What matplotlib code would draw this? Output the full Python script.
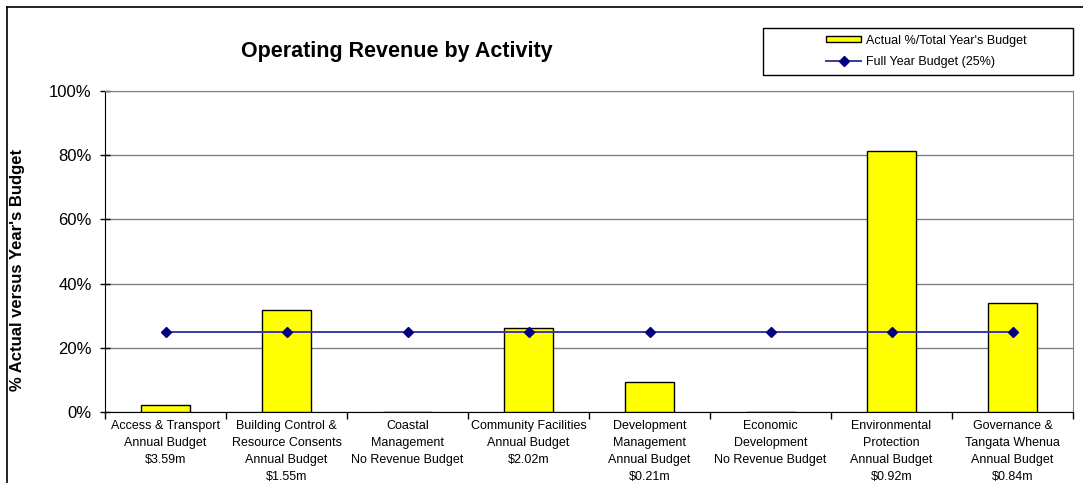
import matplotlib.pyplot as plt
import numpy as np
from matplotlib.lines import Line2D
from matplotlib.patches import Rectangle
from matplotlib.ticker import FuncFormatter

plt.rcParams['font.family'] = ['Liberation Sans', 'DejaVu Sans']

# activity names and their annual budget notes
categories = [
    "Access & Transport\nAnnual Budget\n$3.59m",
    "Building Control &\nResource Consents\nAnnual Budget\n$1.55m",
    "Coastal\nManagement\nNo Revenue Budget",
    "Community Facilities\nAnnual Budget\n$2.02m",
    "Development\nManagement\nAnnual Budget\n$0.21m",
    "Economic\nDevelopment\nNo Revenue Budget",
    "Environmental\nProtection\nAnnual Budget\n$0.92m",
    "Governance &\nTangata Whenua\nAnnual Budget\n$0.84m",
]
actual_pct = [2.2, 31.8, 0, 26.2, 9.3, 0, 81.3, 34.0]
full_year_pct = [25, 25, 25, 25, 25, 25, 25, 25]

W, H = 1083, 483
fig = plt.figure(figsize=(W / 100, H / 100), dpi=100)
ax = fig.add_axes([105 / W, 1 - 412 / H, 968 / W, 321 / H])

x = np.arange(len(categories))
bars = ax.bar(x, actual_pct, width=0.41, color='#FFFF00', edgecolor='black',
              linewidth=1, zorder=3, label="Actual %/Total Year's Budget")
line, = ax.plot(x, full_year_pct, color='#3A3A9E', linewidth=1.4, marker='D',
                markersize=5, markerfacecolor='#000080',
                markeredgecolor='#000080', zorder=4,
                label="Full Year Budget (25%)")

ax.set_xlim(-0.5, len(categories) - 0.5)
ax.set_ylim(0, 100)
ax.set_yticks(np.arange(0, 101, 20))
ax.yaxis.set_major_formatter(FuncFormatter(lambda v, p: f"{v:.0f}%"))
ax.tick_params(axis='y', direction='inout', length=7, width=1,
               labelsize=12, pad=6)
ax.grid(axis='y', color='#808080', linewidth=1, zorder=0)

# category labels centred under bars, tick marks between categories
ax.set_xticks(x)
ax.set_xticklabels(categories, fontsize=9, linespacing=1.55)
ax.tick_params(axis='x', length=0, pad=6)
ax.set_xticks(np.arange(-0.5, len(categories)), minor=True)
ax.tick_params(axis='x', which='minor', direction='out', length=5, width=1)

ax.spines['left'].set_color('black')
ax.spines['bottom'].set_color('black')
ax.spines['top'].set_color('#808080')
ax.spines['right'].set_color('#808080')

fig.text(397 / W, 1 - 52 / H, "Operating Revenue by Activity",
         fontsize=15.5, fontweight='bold', ha='center', va='center')
fig.text(18 / W, 1 - 270 / H, "% Actual versus Year's Budget",
         fontsize=12, fontweight='bold', rotation=90,
         ha='center', va='center')

# legend: entries without frame, box drawn separately
fig.legend([bars, line], [bars.get_label(), line.get_label()],
           loc='center left', bbox_to_anchor=(826 / W, 1 - 51.5 / H),
           fontsize=9, frameon=False, borderpad=0, handlelength=2.8,
           handleheight=0.35, handletextpad=0.4, labelspacing=0.75,
           borderaxespad=0)
fig.add_artist(Rectangle((763 / W, 1 - 75 / H), 310 / W, 47 / H,
                         transform=fig.transFigure, fill=False,
                         edgecolor='black', linewidth=1))

# outer chart frame
fig.add_artist(Line2D([7 / W, 7 / W], [0, 1 - 7 / H], transform=fig.transFigure,
                      color='black', linewidth=1.2))
fig.add_artist(Line2D([7 / W, 1], [1 - 7 / H, 1 - 7 / H],
                      transform=fig.transFigure, color='black', linewidth=1.2))

fig.savefig('out.png', dpi=100)
